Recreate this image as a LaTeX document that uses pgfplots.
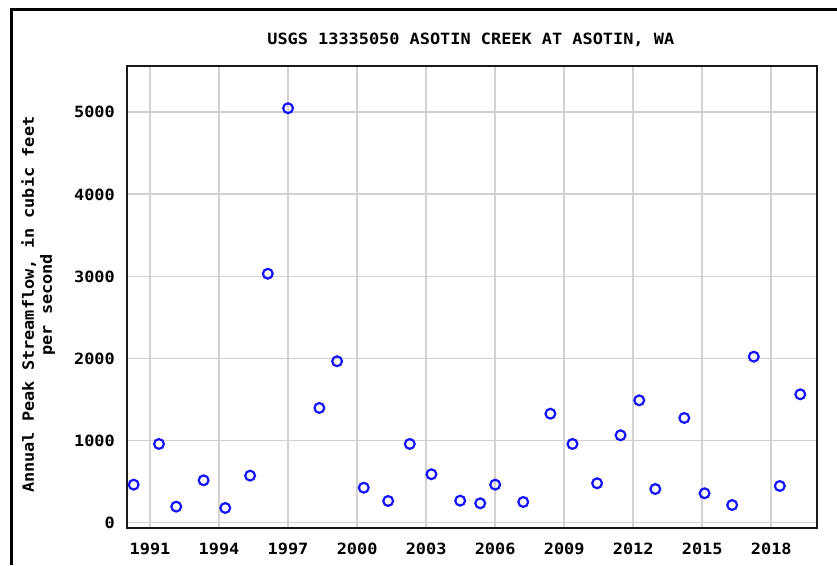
\documentclass[border=0pt]{standalone}
\usepackage{fontspec}
\newfontfamily\chartfont[FakeStretch=1.09]{DejaVu Sans Mono}
\usepackage{pgfplots}
\pgfplotsset{compat=1.18}
\definecolor{gridgray}{RGB}{210,210,210}
\definecolor{markblue}{RGB}{20,20,255}
\newcommand{\cf}{\chartfont\bfseries\fontsize{15.5}{18}\selectfont}
\begin{document}
\begin{tikzpicture}
\useasboundingbox (0pt,0pt) rectangle (837pt,565pt);
\draw[line width=3pt] (11.5pt,0pt) -- (11.5pt,555.5pt) -- (837pt,555.5pt);
\begin{axis}[
  at={(127pt,36.7pt)}, anchor=south west,
  width=690.3pt, height=462.3pt, scale only axis,
  xmin=1990, xmax=2020, ymin=-70, ymax=5565,
  xtick={1991,1994,...,2018},
  ytick={0,1000,...,5000},
  grid=major,
  grid style={gridgray, line width=1.8pt},
  major tick length=0pt,
  axis line style={black!90, line width=1.7pt},
  /pgf/number format/assume math mode=true,
  /pgf/number format/1000 sep={},
  ticklabel style={font=\cf, inner sep=0pt},
  xticklabel style={anchor=north, yshift=-14.5pt},
  yticklabel style={anchor=east, xshift=-12pt},
  title={USGS 13335050 ASOTIN CREEK AT ASOTIN, WA},
  title style={font=\cf, at={(axis description cs:0.498,1.0325)}, anchor=base, inner sep=0pt},
  ylabel={Annual Peak Streamflow, in cubic feet\\per second},
  ylabel style={font=\cf, align=center, at={(axis description cs:-0.1285,0.4835)}, anchor=center, inner sep=0pt},
]
\addplot[only marks, mark=o, mark size=4.9pt, mark options={draw=markblue, line width=2.2pt}] coordinates {
(1990.29,462) (1991.39,958) (1992.14,194) (1993.33,515) (1994.27,178)
(1995.35,572) (1996.12,3033) (1997.00,5050) (1998.36,1397) (1999.13,1966)
(2000.29,425) (2001.35,263) (2002.29,958) (2003.23,589) (2004.48,267)
(2005.35,235) (2006.00,462) (2007.22,251) (2008.40,1327) (2009.36,958)
(2010.43,479) (2011.45,1064) (2012.26,1490) (2012.96,409) (2014.22,1275)
(2015.10,357) (2016.30,214) (2017.24,2022) (2018.37,446) (2019.26,1563)
};
\end{axis}
\end{tikzpicture}
\end{document}
